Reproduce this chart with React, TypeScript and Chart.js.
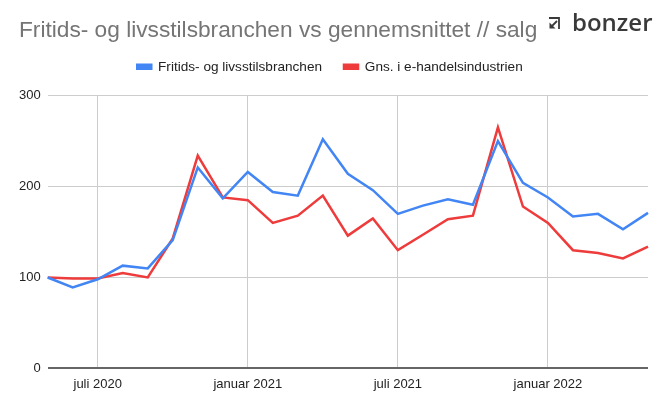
import { useEffect, useRef } from "react";
import { Chart, registerables } from "chart.js";

Chart.register(...registerables);

// months May 2020 .. May 2022
const months = [
  "maj 2020", "juni 2020", "juli 2020", "august 2020", "september 2020", "oktober 2020",
  "november 2020", "december 2020", "januar 2021", "februar 2021", "marts 2021", "april 2021",
  "maj 2021", "juni 2021", "juli 2021", "august 2021", "september 2021", "oktober 2021",
  "november 2021", "december 2021", "januar 2022", "februar 2022", "marts 2022", "april 2022",
  "maj 2022"
];

// only these months get a label + vertical gridline
const labeledMonths = ["juli 2020", "januar 2021", "juli 2021", "januar 2022"];

const fritidsValues = [
  100, 89, 98, 113, 110, 141, 221, 187, 216, 194, 190, 252,
  214, 196, 170, 179, 186, 180, 250, 204, 188, 167, 170, 153, 171
];

const gnsValues = [
  100, 99, 99, 105, 100, 143, 234, 188, 185, 160, 168, 190,
  146, 165, 130, 147, 164, 168, 265, 178, 160, 130, 127, 121, 134
];

const yTicks = [0, 100, 200, 300];

const seriesNames = ["Fritids- og livsstilsbranchen", "Gns. i e-handelsindustrien"];

const font = "Arial, 'Liberation Sans', sans-serif";

// extra space under the legend
const legendGap = {
  id: "legendGap",
  beforeInit(chart: any) {
    const fit = chart.legend.fit;
    chart.legend.fit = function () {
      fit.bind(chart.legend)();
      this.height += 12;
    };
  }
};

export default function App() {
  const canvasRef = useRef<HTMLCanvasElement | null>(null);

  useEffect(() => {
    if (!canvasRef.current) return;
    document.body.style.margin = "0";

    const chart = new Chart(canvasRef.current, {
      type: "line",
      data: {
        labels: months,
        datasets: [
          {
            label: seriesNames[0],
            data: fritidsValues,
            borderColor: "#4285f4",
            backgroundColor: "#4285f4",
            borderWidth: 2.5,
            pointRadius: 0,
            tension: 0
          },
          {
            label: seriesNames[1],
            data: gnsValues,
            borderColor: "#ee3b3b",
            backgroundColor: "#ee3b3b",
            borderWidth: 2.5,
            pointRadius: 0,
            tension: 0
          }
        ]
      },
      plugins: [legendGap],
      options: {
        responsive: true,
        maintainAspectRatio: false,
        animation: false,
        layout: { padding: { top: 38, left: 12, right: 19, bottom: 11 } },
        plugins: {
          legend: {
            position: "top",
            labels: {
              boxWidth: 14,
              boxHeight: 4,
              padding: 22,
              color: "#222",
              font: { family: font, size: 13.6 }
            }
          },
          tooltip: { enabled: false }
        },
        scales: {
          x: {
            offset: false,
            border: { display: false },
            grid: {
              drawTicks: false,
              color: (ctx) =>
                labeledMonths.includes(months[ctx.index]) ? "#cccccc" : "rgba(0,0,0,0)"
            },
            ticks: {
              autoSkip: false,
              maxRotation: 0,
              padding: 8,
              color: "#222",
              font: { family: font, size: 13 },
              callback: (_v, i) => (labeledMonths.includes(months[i]) ? months[i] : "")
            }
          },
          y: {
            min: 0,
            max: 300,
            border: { display: false },
            afterBuildTicks: (axis) => {
              axis.ticks = yTicks.map((v) => ({ value: v }));
            },
            grid: {
              drawTicks: false,
              color: (ctx) => (ctx.tick && ctx.tick.value === 0 ? "#666666" : "#cccccc"),
              lineWidth: (ctx) => (ctx.tick && ctx.tick.value === 0 ? 2 : 1)
            },
            ticks: {
              padding: 7,
              color: "#222",
              font: { family: font, size: 13 }
            }
          }
        }
      }
    });

    return () => chart.destroy();
  }, []);

  return (
    <div style={{ position: "relative", width: 667, height: 411, background: "#fff" }}>
      <canvas ref={canvasRef} />
      <div
        style={{
          position: "absolute",
          left: 19,
          top: 16,
          fontFamily: font,
          fontSize: 22.7,
          color: "#757575",
          whiteSpace: "nowrap"
        }}
      >
        Fritids- og livsstilsbranchen vs gennemsnittet // salg
      </div>
      <svg
        width="11"
        height="12"
        viewBox="0 0 11 12"
        style={{ position: "absolute", left: 549, top: 17 }}
      >
        <path d="M0 1 H10 V12" stroke="#3a3a3a" strokeWidth="1.8" fill="none" />
        <path d="M8 4 L3 9" stroke="#3a3a3a" strokeWidth="1.8" fill="none" />
        <path d="M0.5 11.5 L0.5 5.5 L6.5 11.5 Z" fill="#3a3a3a" />
      </svg>
      <div
        style={{
          position: "absolute",
          left: 572,
          top: 5,
          fontFamily: "'Open Sans', Arial, sans-serif",
          fontSize: 24,
          fontWeight: 600,
          color: "#3a3a3a",
          whiteSpace: "nowrap"
        }}
      >
        bonzer
      </div>
    </div>
  );
}
